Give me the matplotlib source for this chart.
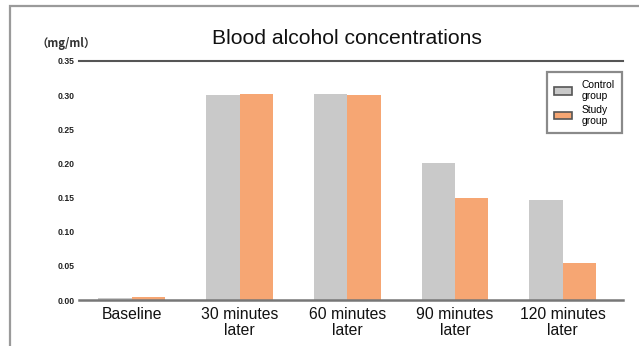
import matplotlib
matplotlib.use("Agg")
import matplotlib.pyplot as plt
import numpy as np
from matplotlib.patches import Patch, Rectangle

plt.rcParams['font.family'] = ['Liberation Sans', 'DejaVu Sans']

categories = ["Baseline", "30 minutes\nlater", "60 minutes\nlater", "90 minutes\nlater", "120 minutes\nlater"]
control_group = [0.003, 0.300, 0.302, 0.201, 0.146]
study_group = [0.004, 0.302, 0.300, 0.150, 0.054]
y_ticks = [0.00, 0.05, 0.10, 0.15, 0.20, 0.25, 0.30, 0.35]
series_names = ["Control\ngroup", "Study\ngroup"]

W, H = 639, 346
fig = plt.figure(figsize=(W / 100, H / 100), dpi=100)

# outer panel frame
fig.patches.append(Rectangle((10 / W, -0.1), 1.2, (H - 6) / H + 0.1, transform=fig.transFigure,
                             fill=False, edgecolor="#9a9a9a", linewidth=1.6))

ax = fig.add_axes([79 / W, 46 / H, (623 - 79) / W, (300 - 61) / H])

x = np.arange(len(categories))
w = 0.31
gray = "#c9c9c9"
orange = "#f6a673"
ax.bar(x - w / 2, control_group, width=w, color=gray, linewidth=0)
ax.bar(x + w / 2, study_group, width=w, color=orange, linewidth=0)

ax.set_xlim(-0.49, 4.56)
ax.set_ylim(0, 0.35)
ax.set_yticks(y_ticks)
ax.set_yticklabels([f"{v:.2f}" for v in y_ticks], fontsize=6.2, fontweight="bold", color="#222222")
ax.set_xticks(x)
ax.set_xticklabels(categories, fontsize=11.3, linespacing=1.08, color="#111111")
ax.tick_params(axis="y", length=0, pad=3)
ax.tick_params(axis="x", length=0, pad=5)

for side in ("left", "right"):
    ax.spines[side].set_visible(False)
ax.spines["top"].set_color("#555555")
ax.spines["top"].set_linewidth(1.5)
ax.spines["bottom"].set_color("#777777")
ax.spines["bottom"].set_linewidth(1.8)

fig.text(346.5 / W, 1 - 38 / H, "Blood alcohol concentrations", ha="center", va="center",
         fontsize=15.2, color="#111111")
fig.text(36 / W, 1 - 43 / H, "（mg/ml）", ha="left", va="center", fontsize=8.2,
         fontweight="bold", color="#333333",
         family=['Noto Sans CJK JP', 'DejaVu Sans'])

handles = [Patch(facecolor=gray, edgecolor="#555555", linewidth=1.2),
           Patch(facecolor=orange, edgecolor="#555555", linewidth=1.2)]
leg = ax.legend(handles, series_names, loc="upper right",
                bbox_to_anchor=(622 / W, 1 - 72 / H), bbox_transform=fig.transFigure,
                fontsize=7.4, frameon=True, fancybox=False, framealpha=1,
                edgecolor="#8a8a8a", handlelength=1.7, handleheight=0.8,
                handletextpad=0.9, labelspacing=0.35, borderpad=0.75, borderaxespad=0)
leg.get_frame().set_linewidth(1.6)
for t in leg.get_texts():
    t.set_linespacing(1.15)

fig.savefig("out.png", dpi=100)
